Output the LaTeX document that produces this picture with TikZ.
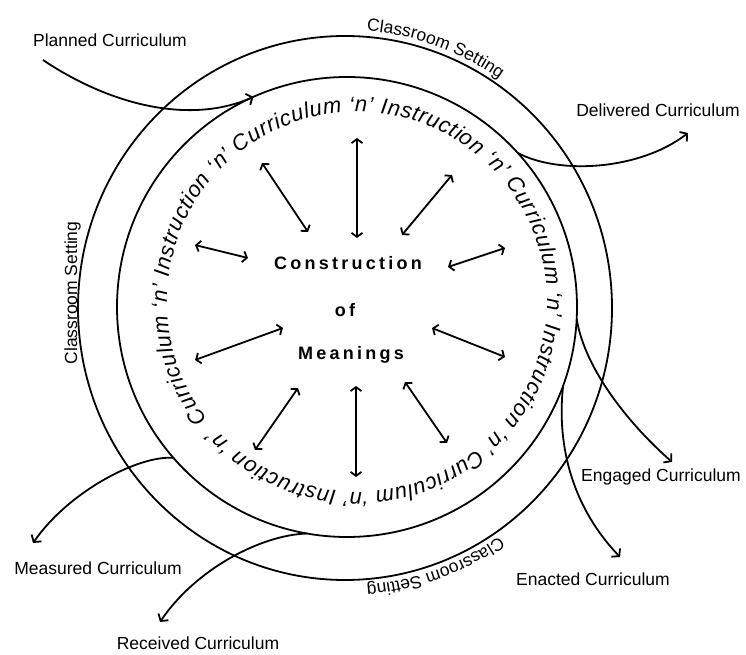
\documentclass[tikz,border=0pt]{standalone}
\usepackage{fontspec}
\setmainfont{Liberation Sans}
\newfontfamily\ringfam{Liberation Sans}
\newfontfamily\cenfam[LetterSpace=18]{Liberation Sans}
\usetikzlibrary{arrows.meta,decorations.text,shapes.geometric}
\newcommand\ringstyle{\ringfam\itshape\fontsize{22}{26}\selectfont}
\newcommand\lblstyle{\fontsize{17.5}{20}\selectfont}
\newcommand\censtyle{\cenfam\bfseries\fontsize{18}{22}\selectfont}
\begin{document}
\begin{tikzpicture}[x=1pt,y=1pt,line width=1.8pt,
  lbl/.style={font=\lblstyle,inner sep=0pt,anchor=base},
  ctr/.style={font=\censtyle,inner sep=0pt,anchor=base},
  flow/.style={-{Straight Barb[length=5pt,width=12pt]}},
  radial/.style={{Straight Barb[length=4pt,width=11pt]}-{Straight Barb[length=4pt,width=11pt]}},
  ring/.style={draw,inner sep=0pt,outer sep=0pt}]
\useasboundingbox (0,0) rectangle (746,655);
% circles
\node[ring,circle,minimum size=460pt] (inner) at (347,348) {};
\node[ring,ellipse,minimum width=534pt,minimum height=544pt] (outer) at (345,347) {};
% ring text
\path[shift={(357,353)},decorate,decoration={text along path,text align=fit to path,
  text={|\ringstyle|Curriculum ‘n’ Instruction ‘n’ Curriculum ‘n’ Instruction ‘n’ Curriculum ‘n’ Instruction ‘n’ Curriculum ‘n’ Instruction ‘n’}}]
  (218:190) arc[start angle=218,end angle=-138,radius=190];
% classroom setting texts
\path[shift={(345,347)},decorate,decoration={text along path,text align=center,
  text={|\lblstyle|Classroom Setting}}]
  (100.5:272 and 278) arc[start angle=100.5,end angle=40.5,x radius=272,y radius=278];
\path[shift={(345,347)},decorate,decoration={text along path,text align=center,
  text={|\lblstyle|Classroom Setting}}]
  (-40.5:272 and 278) arc[start angle=-40.5,end angle=-100.5,x radius=272,y radius=278];
\node[lbl,rotate=90] (csleft) at (77,362) {Classroom Setting};
% centre
\node[ctr] (con) at (348,385) {Construction};
\node[ctr] (of) at (345,338) {of};
\node[ctr] (mea) at (351,295) {Meanings};
% labels
\node[lbl] (planned) at (110,608) {Planned Curriculum};
\node[lbl] (delivered) at (658,538) {Delivered Curriculum};
\node[lbl] (engaged) at (661,173) {Engaged Curriculum};
\node[lbl] (enacted) at (593,69) {Enacted Curriculum};
\node[lbl] (measured) at (98,80) {Measured Curriculum};
\node[lbl] (received) at (198,5) {Received Curriculum};
% flow curves
\coordinate (pl0) at (43,595);
\coordinate (de1) at (688,522);
\coordinate (en1) at (672,193);
\coordinate (ea1) at (620,98);
\coordinate (me1) at (33,112);
\coordinate (re1) at (160,33);
\draw[flow] (pl0) .. controls (110,550) and (190,530) .. (inner.114);
\draw[flow] (inner.42) .. controls (560,480) and (640,485) .. (de1);
\draw[flow] (inner.-3) .. controls (585,285) and (630,230) .. (en1);
\draw[flow] (inner.-20) .. controls (556,205) and (575,145) .. (ea1);
\draw[flow] (inner.221) .. controls (140,200) and (70,165) .. (me1);
\draw[flow] (inner.260) .. controls (260,120) and (195,85) .. (re1);
% radial arrows
\coordinate (a1) at (262,492); \coordinate (a2) at (308,423);
\coordinate (b1) at (357,517); \coordinate (b2) at (357,417);
\coordinate (c1) at (195,410); \coordinate (c2) at (248,397);
\coordinate (d1) at (452,480); \coordinate (d2) at (402,420);
\coordinate (e1) at (505,407); \coordinate (e2) at (448,388);
\coordinate (f1) at (195,295); \coordinate (f2) at (283,327);
\coordinate (g1) at (298,267); \coordinate (g2) at (255,205);
\coordinate (h1) at (356,269); \coordinate (h2) at (356,178);
\coordinate (i1) at (432,327); \coordinate (i2) at (505,298);
\coordinate (j1) at (405,273); \coordinate (j2) at (447,212);
\foreach \p in {a,b,c,d,e,f,g,h,i,j}{\draw[radial] (\p1) -- (\p2);}
\end{tikzpicture}
\end{document}
